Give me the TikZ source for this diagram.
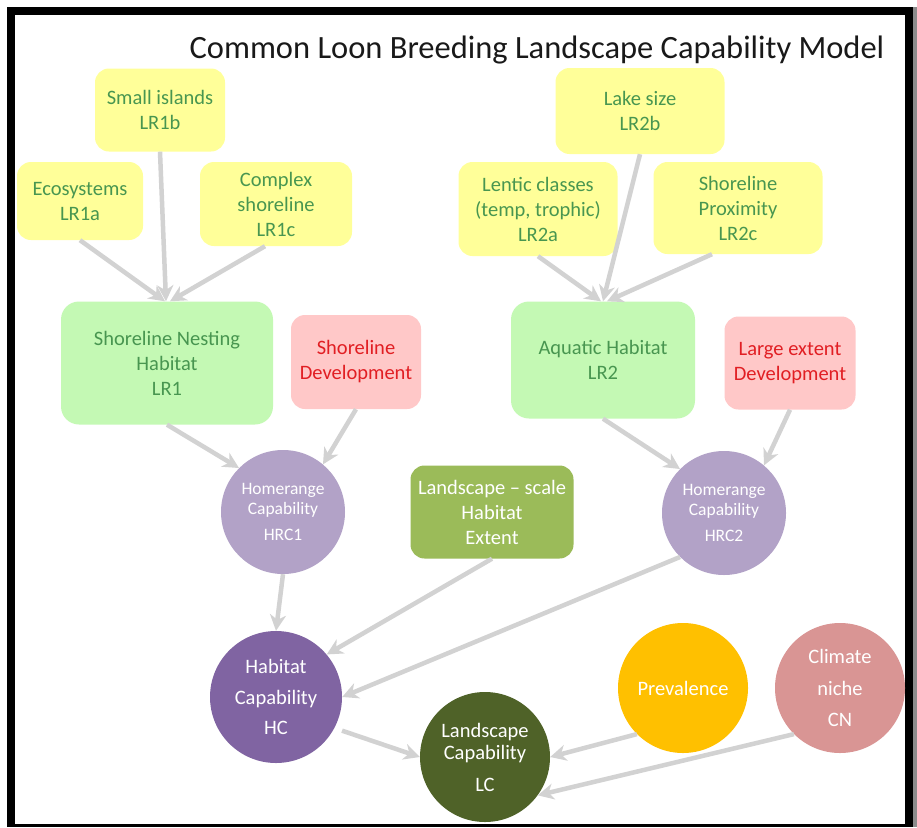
\documentclass[tikz,border=0pt]{standalone}
\usepackage{fontspec}
\setmainfont{Carlito}
\usetikzlibrary{arrows.meta}

\definecolor{leafyellow}{RGB}{255,255,153}
\definecolor{leafgreen}{RGB}{72,150,80}
\definecolor{habgreen}{RGB}{196,249,180}
\definecolor{devpink}{RGB}{255,200,200}
\definecolor{devred}{RGB}{225,30,35}
\definecolor{hrclav}{RGB}{178,162,199}
\definecolor{extgreen}{RGB}{155,187,89}
\definecolor{hcpurple}{RGB}{128,100,162}
\definecolor{lcolive}{RGB}{79,98,40}
\definecolor{prevgold}{RGB}{255,192,0}
\definecolor{cnrose}{RGB}{217,149,148}
\definecolor{arrowgrey}{RGB}{210,210,210}

\begin{document}
\begin{tikzpicture}[x=1pt, y=-1pt,
    txt/.style={align=center, font=\fontsize{20.5}{25}\selectfont},
    leaf/.style={txt, rectangle, rounded corners=14pt, fill=leafyellow, text=leafgreen, inner sep=0pt},
    hab/.style={txt, rectangle, rounded corners=18pt, fill=habgreen, text=leafgreen, inner sep=0pt},
    dev/.style={txt, rectangle, rounded corners=14pt, fill=devpink, text=devred, inner sep=0pt},
    ball/.style={txt, circle, inner sep=0pt, text=white},
    hrc/.style={ball, fill=hrclav, minimum size=124pt, font=\fontsize{17.5}{20}\selectfont},
    link/.style={draw=arrowgrey, line width=4.5pt, -{Stealth[length=16pt,width=16pt,inset=5pt]}}]

    % frame
    \useasboundingbox (0,0) rectangle (917,827);
    \fill[white] (0,0) rectangle (917,827);
    \fill[black!45] (913,7) rectangle (917,827);
    \fill[black] (7,7) rectangle (913,827);
    \fill[white] (15,15) rectangle (905,824);

    \node at (537,58) (title) [anchor=base, font=\fontsize{32.5}{36}\selectfont, text=black!90] {Common Loon Breeding Landscape Capability Model};

    % shoreline side (LR1)
    \node at (160,110) (lr1b) [leaf, minimum width=130pt, minimum height=83pt] {Small islands\\LR1b};
    \node at (80,201) (lr1a) [leaf, minimum width=126pt, minimum height=78pt] {Ecosystems\\LR1a};
    \node at (276,204) (lr1c) [leaf, minimum width=152pt, minimum height=84pt] {Complex\\shoreline\\LR1c};
    \node at (167,363) (lr1) [hab, minimum width=212pt, minimum height=123pt] {Shoreline Nesting\\Habitat\\LR1};
    \node at (356,362) (sd) [dev, minimum width=130pt, minimum height=94pt] {Shoreline\\Development};

    % aquatic side (LR2)
    \node at (640,111) (lr2b) [leaf, minimum width=169pt, minimum height=86pt] {Lake size\\LR2b};
    \node at (538,209) (lr2a) [leaf, minimum width=159pt, minimum height=94pt] {Lentic classes\\(temp, trophic)\\LR2a};
    \node at (738,208) (lr2c) [leaf, minimum width=169pt, minimum height=92pt] {Shoreline\\Proximity\\LR2c};
    \node at (603,360) (lr2) [hab, minimum width=184pt, minimum height=117pt] {Aquatic Habitat\\LR2};
    \node at (790,363) (led) [dev, minimum width=131pt, minimum height=93pt] {Large extent\\Development};

    % homerange level
    \node at (283,512) (hrc1) [hrc] {Homerange\\Capability\\[6pt]HRC1};
    \node at (724,513) (hrc2) [hrc] {Homerange\\Capability\\[6pt]HRC2};
    \node at (492,512) (extent) [txt, rectangle, rounded corners=14pt, fill=extgreen, text=white, inner sep=0pt, minimum width=163pt, minimum height=93pt] {Landscape – scale\\Habitat\\Extent};

    % bottom level
    \node at (276,697) (hc) [ball, fill=hcpurple, minimum size=132pt, font=\fontsize{20.5}{30.5}\selectfont] {Habitat\\Capability\\HC};
    \node at (485,757) (lc) [ball, fill=lcolive, minimum size=130pt, font=\fontsize{20.5}{22}\selectfont] {Landscape\\Capability\\[10pt]LC};
    \node at (683,688) (prev) [ball, fill=prevgold, minimum size=130pt] {Prevalence};
    \node at (840,688) (cn) [ball, fill=cnrose, minimum size=130pt, font=\fontsize{20.5}{31.5}\selectfont] {Climate\\niche\\CN};

    % arrows
    \draw[link] (lr1a.south) -- ([xshift=-2pt]lr1.north);
    \draw[link] (lr1b.south) -- ([xshift=-1pt]lr1.north);
    \draw[link] ([xshift=-11pt]lr1c.south) -- ([xshift=3pt]lr1.north);
    \draw[link] (lr2a.south) -- ([xshift=-2pt]lr2.north);
    \draw[link] (lr2b.south) -- (lr2.north);
    \draw[link] ([xshift=-26pt]lr2c.south) -- ([xshift=4pt]lr2.north);
    \draw[link] (lr1.south) -- (hrc1.135);
    \draw[link] (sd.south) -- (hrc1.50);
    \draw[link] (lr2.south) -- (hrc2.135);
    \draw[link] (led.south) -- (hrc2.50);
    \draw[link] (hrc1.south) -- (hc.north);
    \draw[link] (extent.south) -- (hc.40);
    \draw[link] (hrc2.225) -- (hc.east);
    \draw[link, shorten <=8pt] (hc.-28) -- (lc.west);
    \draw[link] (prev.225) -- (lc.east);
    \draw[link] (cn.225) -- (lc.-36);
\end{tikzpicture}
\end{document}
